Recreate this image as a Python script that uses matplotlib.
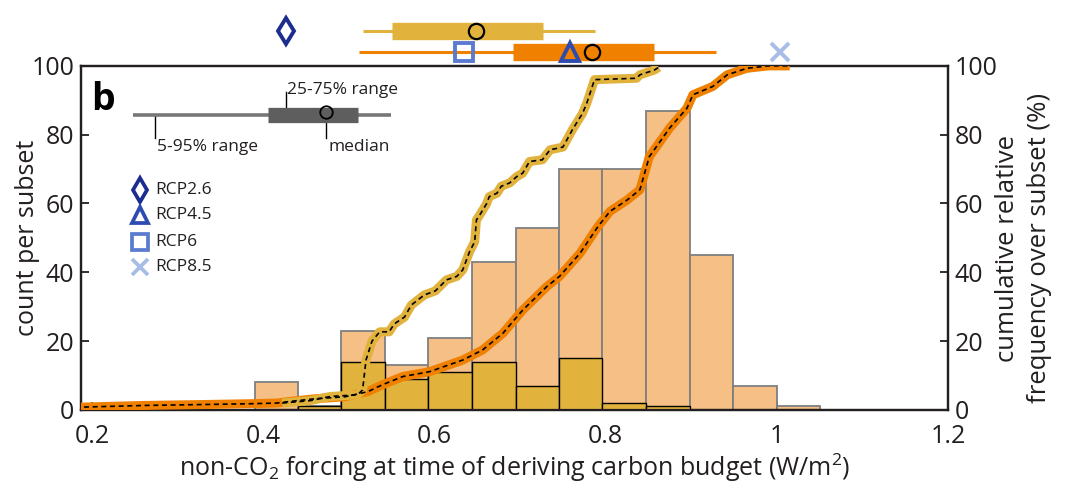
import numpy as np
import matplotlib
matplotlib.use("Agg")
import matplotlib.pyplot as plt

plt.rcParams['font.family'] = ['Open Sans', 'DejaVu Sans']
plt.rcParams['mathtext.fontset'] = 'custom'
plt.rcParams['mathtext.rm'] = 'Open Sans'
plt.rcParams['mathtext.it'] = 'Open Sans:italic'
plt.rcParams['mathtext.bf'] = 'Open Sans:bold'

# histogram bins (W/m2) and counts
bin_edges = [0.390, 0.441, 0.491, 0.542, 0.593, 0.644, 0.695, 0.746,
             0.796, 0.847, 0.898, 0.949, 1.000, 1.050]
count_all = [8, 1, 23, 13, 21, 43, 53, 70, 70, 87, 45, 7, 1]
count_sub = [0, 1, 14, 9, 11, 14, 7, 15, 2, 1, 0, 0, 0]

# cumulative relative frequency curves (%)
cdf_sub_x = [0.422, 0.455, 0.478, 0.510, 0.516, 0.520, 0.527, 0.536, 0.547, 0.553,
             0.565, 0.573, 0.588, 0.601, 0.614, 0.626, 0.633, 0.641, 0.647, 0.649,
             0.653, 0.661, 0.664, 0.673, 0.678, 0.688, 0.696, 0.703, 0.711, 0.726,
             0.735, 0.750, 0.758, 0.761, 0.773, 0.778, 0.787, 0.836, 0.840, 0.857, 0.862]
cdf_sub_y = [2.0, 2.7, 3.9, 4.4, 5.8, 14.5, 20.0, 22.7, 22.7, 25.0,
             27.0, 30.5, 33.4, 34.6, 37.8, 38.8, 40.7, 46.0, 48.9, 55.2,
             56.7, 60.0, 62.0, 63.0, 65.0, 66.0, 67.8, 68.8, 72.2, 72.7,
             75.6, 76.4, 80.0, 81.4, 86.2, 89.2, 96.0, 96.4, 97.4, 98.8, 99.6]

cdf_all_x = [0.150, 0.186, 0.261, 0.338, 0.385, 0.416, 0.436, 0.463, 0.495, 0.522, 0.539,
             0.563, 0.594, 0.633, 0.656, 0.680, 0.703, 0.731, 0.746, 0.770,
             0.791, 0.805, 0.825, 0.840, 0.851, 0.875, 0.895, 0.902, 0.925,
             0.942, 0.965, 0.990, 1.015]
cdf_all_y = [0.3, 0.8, 1.3, 1.6, 1.8, 2.0, 2.6, 3.3, 3.8, 5.3, 7.3,
             9.7, 11.1, 14.5, 17.4, 22.3, 29.0, 35.8, 38.8, 45.5,
             53.3, 57.7, 61.0, 64.0, 73.6, 82.0, 87.7, 91.6, 94.0,
             97.4, 99.3, 100.0, 100.0]

# summary statistics shown above the panel: 5, 25, 50, 75, 95 %
stats_sub = [0.516, 0.550, 0.648, 0.727, 0.787]
stats_all = [0.512, 0.692, 0.784, 0.856, 0.929]

rcp_names = ['RCP2.6', 'RCP4.5', 'RCP6', 'RCP8.5']
rcp_values = [0.426, 0.758, 0.634, 1.004]
rcp_markers = ['d', '^', 's', 'x']
rcp_colors = ['#1c2d8f', '#2e4bb0', '#5a7bd0', '#a7bce6']
rcp_row = [0, 1, 1, 1]

c_light = '#f5bf85'
c_orange = '#f08000'
c_gold = '#e1b33d'
c_ink = '#231f20'

fig = plt.figure(figsize=(10.69, 4.88), dpi=100)
ax = fig.add_axes([0.0758, 0.160, 0.811, 0.705])

widths = np.diff(bin_edges)
ax.bar(bin_edges[:-1], count_all, width=widths, align='edge', color=c_light,
       edgecolor='#7f7f7f', linewidth=1.3, zorder=2)
ax.bar(bin_edges[:-1], count_sub, width=widths, align='edge', color=c_gold,
       edgecolor='black', linewidth=1.0, zorder=3)

ax.set_xlim(0.187, 1.2)
ax.set_ylim(0, 100)
ax.set_xticks([0.2, 0.4, 0.6, 0.8, 1.0, 1.2])
ax.set_xticklabels(['0.2', '0.4', '0.6', '0.8', '1', '1.2'])
ax.set_yticks([0, 20, 40, 60, 80, 100])
ax.tick_params(direction='in', length=6, width=1.3, labelsize=18, colors=c_ink, pad=5)
ax.tick_params(axis='x', pad=10)
ax.set_xlabel(r'non-CO$_\mathrm{2}$ forcing at time of deriving carbon budget (W/m$^\mathrm{2}$)',
              fontsize=18, color=c_ink, labelpad=2)
ax.set_ylabel('count per subset', fontsize=18, color=c_ink)
ax.yaxis.set_label_coords(-0.047, 0.5)
for s in ax.spines.values():
    s.set_linewidth(1.6)
    s.set_color(c_ink)

ax2 = ax.twinx()
ax2.set_ylim(0, 100)
ax2.set_yticks([0, 20, 40, 60, 80, 100])
ax2.tick_params(direction='in', length=6, width=1.3, labelsize=18, colors=c_ink, pad=5)
ax2.set_ylabel('cumulative relative\nfrequency over subset (%)', fontsize=18.5,
               color=c_ink, rotation=90, linespacing=1.4)
ax2.yaxis.set_label_coords(1.054, 0.47)
for s in ax2.spines.values():
    s.set_linewidth(1.6)
    s.set_color(c_ink)

ax2.plot(cdf_all_x, cdf_all_y, color=c_orange, lw=6.5, solid_capstyle='butt',
         solid_joinstyle='round', zorder=3)
ax2.plot(cdf_all_x, cdf_all_y, color='black', lw=1.2, ls=(0, (3, 2.2)), zorder=4)
ax2.plot(cdf_sub_x, cdf_sub_y, color=c_gold, lw=6.5, solid_capstyle='butt',
         solid_joinstyle='round', zorder=3)
ax2.plot(cdf_sub_x, cdf_sub_y, color='black', lw=1.2, ls=(0, (3, 2.2)), zorder=4)

# panel letter and explanation of the box symbols
ax.text(0.012, 0.900, 'b', transform=ax.transAxes, fontsize=27, fontweight='bold',
        color='black', va='center', ha='left')
ax.plot([0.060, 0.357], [0.856, 0.856], transform=ax.transAxes, color='#777777',
        lw=2.6, solid_capstyle='butt', zorder=5)
ax.plot([0.216, 0.319], [0.856, 0.856], transform=ax.transAxes, color='#5e5e5e',
        lw=11, solid_capstyle='butt', zorder=5)
ax.plot([0.283], [0.865], transform=ax.transAxes, marker='o', ms=9, mfc='none',
        mec='black', mew=1.3, zorder=6)
ax.plot([0.085, 0.085], [0.790, 0.856], transform=ax.transAxes, color='black', lw=1)
ax.plot([0.237, 0.237], [0.856, 0.925], transform=ax.transAxes, color='black', lw=1)
ax.plot([0.283, 0.283], [0.790, 0.845], transform=ax.transAxes, color='black', lw=1)
ax.text(0.238, 0.930, '25-75% range', transform=ax.transAxes, fontsize=12.5,
        va='center', ha='left', color=c_ink)
ax.text(0.088, 0.765, '5-95% range', transform=ax.transAxes, fontsize=12.5,
        va='center', ha='left', color=c_ink)
ax.text(0.285, 0.765, 'median', transform=ax.transAxes, fontsize=12.5,
        va='center', ha='left', color=c_ink)

legend_y = [0.64, 0.567, 0.489, 0.416]
for name, mk, col, yy in zip(rcp_names, rcp_markers, rcp_colors, legend_y):
    ax.plot([0.068], [yy], transform=ax.transAxes, marker=mk, ms=12, mfc='none',
            mec=col, mew=2.7, ls='none')
    ax.text(0.086, yy, name, transform=ax.transAxes, fontsize=12.5, va='center',
            ha='left', color=c_ink)

# box summaries above the panel
axt = fig.add_axes([0.0758, 0.865, 0.811, 0.135], sharex=ax)
axt.set_ylim(0, 1)
axt.axis('off')
row_y = [0.53, 0.21]
for st, col, yy in zip([stats_sub, stats_all], [c_gold, c_orange], row_y):
    axt.plot([st[0], st[4]], [yy, yy], color=col, lw=2.2, solid_capstyle='butt')
    axt.plot([st[1], st[3]], [yy, yy], color=col, lw=12.5, solid_capstyle='butt')
    axt.plot([st[2]], [yy], marker='o', ms=11, mfc='none', mec='black', mew=1.6)
for val, mk, col, r in zip(rcp_values, rcp_markers, rcp_colors, rcp_row):
    axt.plot([val], [row_y[r]], marker=mk, ms=13, mfc='none', mec=col, mew=2.8,
             ls='none', clip_on=False)

fig.savefig('out.png', dpi=100)
